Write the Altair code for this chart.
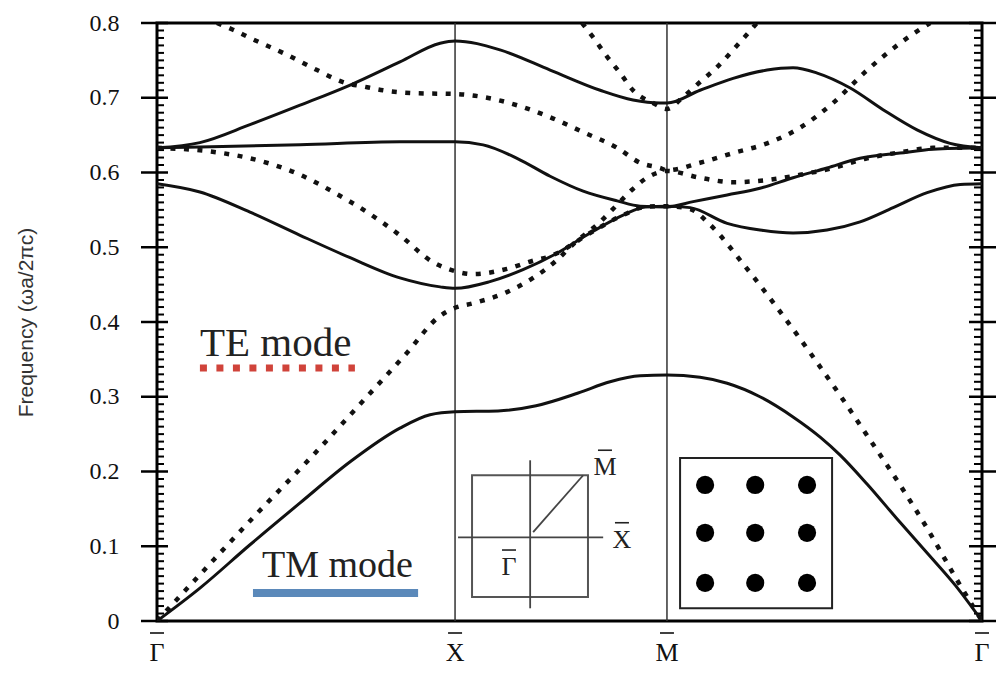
import altair as alt
import pandas as pd

# Path coordinate along Γ–X–M–Γ (Γ=0, X=1, M=1.711, Γ=2.768) and frequency ωa/2πc
tm1_k = [0, 0.144, 0.312, 0.480, 0.648, 0.815, 0.916, 1.0, 1.144, 1.272, 1.413, 1.520, 1.621, 1.711,
         1.822, 1.913, 2.023, 2.134, 2.225, 2.292, 2.383, 2.493, 2.584, 2.678, 2.768]
tm1_f = [0, 0.044, 0.102, 0.158, 0.213, 0.258, 0.276, 0.280, 0.281, 0.288, 0.305, 0.320, 0.328, 0.329,
         0.326, 0.318, 0.300, 0.273, 0.246, 0.222, 0.183, 0.132, 0.091, 0.048, 0]

tm2_k = [0, 0.144, 0.312, 0.480, 0.648, 0.815, 0.950, 1.0, 1.117, 1.228, 1.342, 1.453, 1.564, 1.638,
         1.711, 1.789, 1.913, 2.023, 2.134, 2.248, 2.359, 2.470, 2.584, 2.695, 2.768]
tm2_f = [0.585, 0.574, 0.547, 0.516, 0.486, 0.459, 0.447, 0.445, 0.454, 0.470, 0.492, 0.519, 0.543, 0.554,
         0.555, 0.553, 0.532, 0.523, 0.519, 0.523, 0.534, 0.553, 0.573, 0.584, 0.585]

tm3_k = [0, 0.144, 0.480, 0.815, 1.0, 1.094, 1.208, 1.319, 1.430, 1.544, 1.621, 1.711, 1.799, 1.913,
         2.023, 2.134, 2.248, 2.359, 2.493, 2.604, 2.768]
tm3_f = [0.633, 0.634, 0.637, 0.641, 0.641, 0.637, 0.619, 0.595, 0.575, 0.562, 0.555, 0.554, 0.561, 0.570,
         0.579, 0.593, 0.606, 0.619, 0.626, 0.631, 0.633]

tm4_k = [0, 0.144, 0.312, 0.480, 0.648, 0.815, 0.950, 1.0, 1.151, 1.319, 1.487, 1.597, 1.688, 1.711,
         1.822, 1.933, 2.047, 2.134, 2.215, 2.326, 2.436, 2.550, 2.661, 2.768]
tm4_f = [0.633, 0.640, 0.664, 0.690, 0.717, 0.748, 0.773, 0.776, 0.764, 0.737, 0.710, 0.697, 0.693, 0.693,
         0.710, 0.726, 0.737, 0.740, 0.733, 0.713, 0.684, 0.657, 0.639, 0.633]

te1_k = [0, 0.158, 0.336, 0.517, 0.695, 0.839, 0.946, 1.0, 1.060, 1.174, 1.262, 1.309, 1.342, 1.396,
         1.487, 1.527, 1.597, 1.644, 1.711, 1.822, 1.933, 2.047, 2.158, 2.268, 2.383, 2.493, 2.604, 2.768]
te1_f = [0, 0.068, 0.144, 0.219, 0.296, 0.359, 0.407, 0.419, 0.425, 0.440, 0.459, 0.472, 0.483, 0.504,
         0.534, 0.550, 0.578, 0.593, 0.602, 0.593, 0.587, 0.590, 0.597, 0.606, 0.619, 0.627, 0.633, 0.633]

te2_k = [0.201, 0.255, 0.312, 0.423, 0.537, 0.624, 0.705, 0.758, 0.872, 1.0, 1.094, 1.208, 1.319, 1.430,
         1.544, 1.621, 1.688, 1.711, 1.822, 1.933, 2.047, 2.158, 2.268, 2.383, 2.493, 2.594]
te2_f = [0.800, 0.791, 0.780, 0.760, 0.737, 0.721, 0.714, 0.710, 0.706, 0.705, 0.701, 0.690, 0.674, 0.654,
         0.633, 0.613, 0.606, 0.603, 0.613, 0.626, 0.639, 0.660, 0.693, 0.737, 0.773, 0.800]

te3_k = [0, 0.201, 0.312, 0.480, 0.591, 0.705, 0.815, 0.926, 1.0, 1.060, 1.174, 1.262, 1.319, 1.342,
         1.453, 1.564, 1.638, 1.711, 1.789, 1.856, 1.966, 2.081, 2.191, 2.302, 2.393, 2.493, 2.584, 2.678, 2.768]
te3_f = [0.633, 0.627, 0.619, 0.597, 0.574, 0.547, 0.516, 0.480, 0.468, 0.464, 0.471, 0.482, 0.488, 0.492,
         0.519, 0.543, 0.554, 0.555, 0.551, 0.530, 0.478, 0.419, 0.359, 0.296, 0.242, 0.182, 0.124, 0.059, 0]

te4_k = [1.426, 1.463, 1.510, 1.554, 1.597, 1.664, 1.711, 1.765, 1.822, 1.879, 1.933, 1.980, 2.013]
te4_f = [0.800, 0.781, 0.755, 0.733, 0.710, 0.693, 0.685, 0.701, 0.721, 0.741, 0.764, 0.785, 0.800]

# High-symmetry points on the path
sym_names = ["Γ", "X", "M", "Γ"]
sym_k = [0, 1.0, 1.711, 2.768]

# Frequency ticks
major_ticks = [0, 0.1, 0.2, 0.3, 0.4, 0.5, 0.6, 0.7, 0.8]
minor_ticks = [round(i * 0.01, 2) for i in range(1, 80) if i % 10]

# Brillouin-zone sketch (drawn in plot coordinates)
bz_box = {"k": [1.057], "k2": [1.446], "f": [0.032], "f2": [0.195]}
bz_lines = {"k": [1.010, 1.252, 1.262], "k2": [1.497, 1.252, 1.430],
            "f": [0.112, 0.017, 0.119], "f2": [0.112, 0.215, 0.195]}
bz_labels = {"k": [1.503, 1.560, 1.181], "f": [0.195, 0.098, 0.0615], "txt": ["M", "X", "Γ"]}

# Square lattice of rods
lat_box = {"k": [1.755], "k2": [2.265], "f": [0.017], "f2": [0.218]}
rod_cols = [1.839, 2.007, 2.181]
rod_rows = [0.182, 0.118, 0.051]


def band(name, pol, ks, fs):
    return pd.DataFrame({"k": ks, "f": fs, "band": name, "pol": pol, "i": list(range(len(ks)))})


bands = pd.concat([
    band("tm1", "TM", tm1_k, tm1_f), band("tm2", "TM", tm2_k, tm2_f),
    band("tm3", "TM", tm3_k, tm3_f), band("tm4", "TM", tm4_k, tm4_f),
    band("te1", "TE", te1_k, te1_f), band("te2", "TE", te2_k, te2_f),
    band("te3", "TE", te3_k, te3_f), band("te4", "TE", te4_k, te4_f),
], ignore_index=True)

W, H = 825, 598
SERIF = "Liberation Serif, Times New Roman, serif"

x_scale = alt.Scale(domain=[0, 2.768], nice=False, zero=False)
y_scale = alt.Scale(domain=[0, 0.8], nice=False, zero=False)
y_axis = alt.Axis(
    values=major_ticks,
    labelExpr="datum.value == 0 ? '0' : format(datum.value, '.1f')",
    ticks=False, domain=False, grid=False,
    labelFont=SERIF, labelFontSize=24, labelColor="#111", labelPadding=38,
    title="Frequency (ωa/2πc)", titleFont="Liberation Sans, Arial, sans-serif", titleFontSize=21,
    titleFontWeight="normal", titleColor="#333", titlePadding=53,
)
X = alt.X("k:Q", scale=x_scale, axis=None)
Y = alt.Y("f:Q", scale=y_scale, axis=y_axis)
X2 = alt.X2("k2:Q")
Y2 = alt.Y2("f2:Q")

tm_lines = alt.Chart(bands).transform_filter(alt.datum.pol == "TM").mark_line(
    color="#111", strokeWidth=3, clip=True, interpolate="monotone"
).encode(x=X, y=Y, detail="band:N", order="i:Q")

te_lines = alt.Chart(bands).transform_filter(alt.datum.pol == "TE").mark_line(
    color="#111", strokeWidth=4.5, strokeDash=[5, 8.5], clip=True, interpolate="monotone"
).encode(x=X, y=Y, detail="band:N", order="i:Q")

sym_df = pd.DataFrame({"k": sym_k, "name": sym_names})
sym_rules = alt.Chart(sym_df.iloc[1:3]).mark_rule(color="#333", strokeWidth=1.5).encode(
    x=X, y=alt.value(0), y2=alt.value(H)
)
sym_text = alt.Chart(sym_df).mark_text(font=SERIF, fontSize=26, color="#111", baseline="alphabetic").encode(
    x=X, y=alt.value(H + 40), text="name:N"
)
# overbars on the symmetry-point letters
sym_bar = alt.Chart(sym_df).mark_rule(color="#111", strokeWidth=1.6, xOffset=-7, x2Offset=7).encode(
    x=X, x2=alt.X2("k:Q"), y=alt.value(H + 12)
)

maj = pd.DataFrame({"f": major_ticks})
mnr = pd.DataFrame({"f": minor_ticks})
ticks = [
    alt.Chart(maj).mark_rule(color="#000", strokeWidth=2.5).encode(y=Y, x=alt.value(-16), x2=alt.value(11)),
    alt.Chart(mnr).mark_rule(color="#000", strokeWidth=2).encode(y=Y, x=alt.value(0), x2=alt.value(7)),
    alt.Chart(maj).mark_rule(color="#000", strokeWidth=2.5).encode(y=Y, x=alt.value(W - 13), x2=alt.value(W + 14)),
    alt.Chart(mnr).mark_rule(color="#000", strokeWidth=2).encode(y=Y, x=alt.value(W - 8), x2=alt.value(W)),
]

# Legend annotations
te_txt = alt.Chart(pd.DataFrame({"k": [0.144], "f": [0.3545], "txt": ["TE mode"]})).mark_text(
    font=SERIF, fontSize=41, align="left", baseline="alphabetic", color="#222"
).encode(x=X, y=Y, text="txt:N")
te_key = alt.Chart(pd.DataFrame({"k": [0.144], "k2": [0.664], "f": [0.3385]})).mark_rule(
    color="#d0433a", strokeWidth=7, strokeDash=[7, 9.5]
).encode(x=X, x2=X2, y=Y)
tm_txt = alt.Chart(pd.DataFrame({"k": [0.352], "f": [0.0589], "txt": ["TM mode"]})).mark_text(
    font=SERIF, fontSize=38, align="left", baseline="alphabetic", color="#222"
).encode(x=X, y=Y, text="txt:N")
tm_key = alt.Chart(pd.DataFrame({"k": [0.322], "k2": [0.876], "f": [0.0375]})).mark_rule(
    color="#5b89ba", strokeWidth=8
).encode(x=X, x2=X2, y=Y)

# Brillouin-zone sketch
bz_rect = alt.Chart(pd.DataFrame(bz_box)).mark_rect(fillOpacity=0, stroke="#555", strokeWidth=2).encode(
    x=X, x2=X2, y=Y, y2=Y2
)
bz_rule = alt.Chart(pd.DataFrame(bz_lines)).mark_rule(color="#444", strokeWidth=1.8).encode(
    x=X, x2=X2, y=Y, y2=Y2
)
bz_txt = alt.Chart(pd.DataFrame(bz_labels)).mark_text(
    font=SERIF, fontSize=26, color="#222", baseline="alphabetic"
).encode(x=X, y=Y, text="txt:N")
bz_bar = alt.Chart(pd.DataFrame(bz_labels)).mark_rule(
    color="#222", strokeWidth=1.6, xOffset=-7, x2Offset=7, yOffset=-25
).encode(x=X, x2=alt.X2("k:Q"), y=Y)

# Rod lattice sketch
lat_rect = alt.Chart(pd.DataFrame(lat_box)).mark_rect(fillOpacity=0, stroke="#222", strokeWidth=2).encode(
    x=X, x2=X2, y=Y, y2=Y2
)
rods = pd.DataFrame([{"k": c, "f": r} for r in rod_rows for c in rod_cols])
rod_pts = alt.Chart(rods).mark_circle(size=330, color="#000", opacity=1).encode(x=X, y=Y)

chart = alt.layer(
    sym_rules, *ticks, te_lines, tm_lines, sym_text, sym_bar,
    te_key, te_txt, tm_key, tm_txt,
    bz_rect, bz_rule, bz_txt, bz_bar, lat_rect, rod_pts,
).properties(
    width=W, height=H,
    autosize=alt.AutoSizeParams(type="none"),
    padding={"left": 157, "top": 23, "right": 16, "bottom": 67},
    background="white",
).configure_view(stroke="#000", strokeWidth=3)

chart.save("out.html", embed_options={"renderer": "svg", "actions": False})
